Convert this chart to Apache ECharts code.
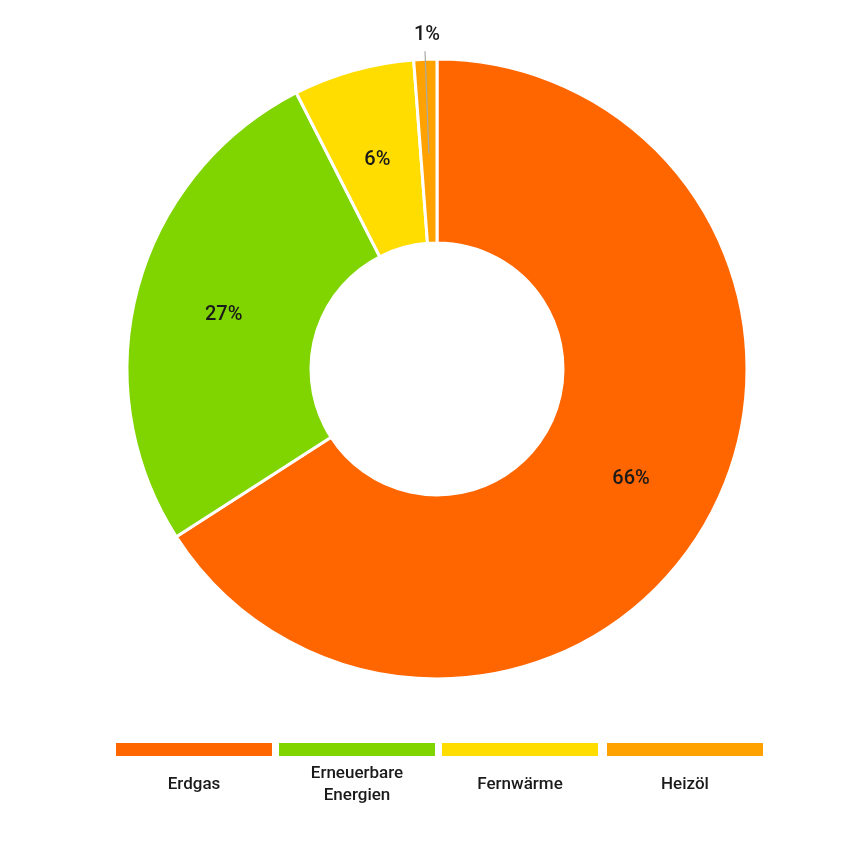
<!DOCTYPE html>
<html>
<head>
<meta charset="utf-8">
<title>Energieträger</title>
<script src="https://cdn.jsdelivr.net/npm/echarts@6/dist/echarts.min.js"></script>
<style>
  html, body { margin: 0; padding: 0; background: #fff; }
  #chart { width: 844px; height: 864px; }
</style>
</head>
<body>
<div id="chart"></div>
<script>
// data
const categories = ['Erdgas', 'Erneuerbare\nEnergien', 'Fernwärme', 'Heizöl']
const shares = [65.9, 26.6, 6.3, 1.2]
const colors = ['#ff6600', '#80d400', '#ffdd00', '#ffa200']

const FONT = 'Roboto'
const chart = echarts.init(document.getElementById('chart'))

const pct = (p) => Math.round(p.percent) + '%'

// main ring, small slices get their label from the helper series below
const ringData = categories.map((name, i) => ({
  name: name,
  value: shares[i],
  itemStyle: { color: colors[i] },
  label: { show: shares[i] >= 2 },
}))

// invisible helper ring: only used to draw the leader line for tiny slices
const helperData = categories.map((name, i) => ({
  name: name,
  value: shares[i],
  itemStyle: { color: 'rgba(0,0,0,0)', borderWidth: 0 },
  label: { show: shares[i] < 2 },
  labelLine: { show: shares[i] < 2 },
}))

// legend: coloured bar with the name centred below it
const legendX = [116, 279, 442, 607]
const legendItems = []
categories.forEach((name, i) => {
  legendItems.push({
    type: 'rect',
    left: legendX[i],
    top: 743,
    shape: { width: 156, height: 13 },
    style: { fill: colors[i] },
  })
  legendItems.push({
    type: 'text',
    x: legendX[i] + 78,
    y: 785,
    style: {
      text: name,
      fill: '#1a1a1a',
      font: '500 17px ' + FONT,
      align: 'center',
      verticalAlign: 'middle',
      lineHeight: 22,
    },
  })
})

const option = {
  backgroundColor: '#fff',
  animation: false,
  series: [
    {
      type: 'pie',
      center: [437, 369],
      radius: [126, 310],
      startAngle: 90,
      clockwise: true,
      itemStyle: { borderColor: '#fff', borderWidth: 3 },
      label: {
        position: 'inside',
        formatter: pct,
        color: '#1a1a1a',
        fontFamily: FONT,
        fontWeight: 500,
        fontSize: 20,
      },
      labelLine: { show: false },
      // nudge the inside labels a little lower, as in the original
      labelLayout: () => ({ dy: 4 }),
      emphasis: { disabled: true },
      data: ringData,
    },
    {
      type: 'pie',
      center: [437, 369],
      radius: [0, 216],
      startAngle: 90,
      clockwise: true,
      silent: true,
      label: {
        position: 'outside',
        formatter: pct,
        color: '#1a1a1a',
        fontFamily: FONT,
        fontWeight: 500,
        fontSize: 20,
      },
      labelLine: {
        length: 102,
        length2: 0,
        lineStyle: { color: '#a8a8a8', width: 1.2 },
      },
      // put the label centred on top of its leader line
      labelLayout: (p) => {
        if (!p.labelLinePoints) return {}
        const pts = p.labelLinePoints
        const end = pts[pts.length - 1]
        return {
          x: end[0] + 2,
          y: end[1] - 6,
          align: 'center',
          verticalAlign: 'bottom',
          labelLinePoints: [pts[0], end],
        }
      },
      data: helperData,
      z: 3,
    },
  ],
  graphic: legendItems,
}

chart.setOption(option)
window.addEventListener('resize', () => chart.resize())
</script>
</body>
</html>
